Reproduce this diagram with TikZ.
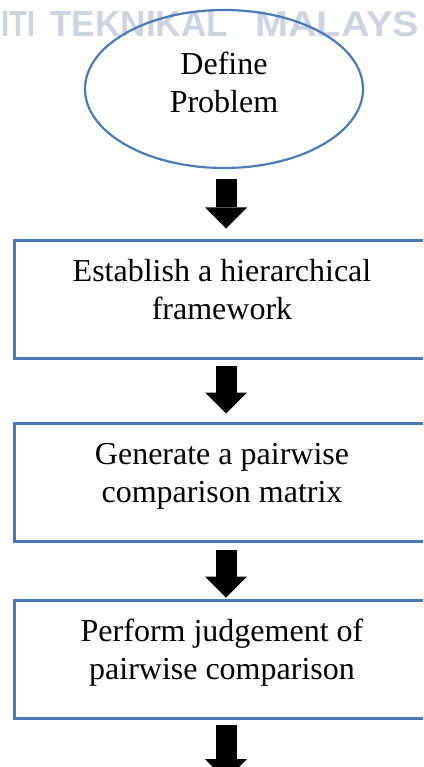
\documentclass[tikz,border=0pt]{standalone}
\usepackage{fontspec}
\setmainfont{Liberation Serif}
\newfontfamily\marksans{Liberation Sans}
\usetikzlibrary{shapes.geometric,arrows.meta,calc}

\definecolor{edgeblue}{RGB}{74,123,183}
\definecolor{markgray}{RGB}{206,211,224}

\tikzset{
  flowtext/.style={font=\fontsize{32}{38}\selectfont, align=center, inner sep=0pt},
  stepbox/.style={draw=edgeblue, line width=3pt, minimum width=416pt,
                  minimum height=118pt, inner sep=0pt},
  startshape/.style={draw=edgeblue, line width=2.2pt, ellipse, minimum width=278pt,
                     minimum height=158pt, inner sep=0pt},
  blockarrow/.style={draw=black, line width=21pt,
                     -{Triangle[width=42pt,length=21pt,line width=0pt]}},
  markword/.style={anchor=base west, inner sep=0pt, text=markgray,
                   font=\marksans\bfseries\fontsize{34}{34}\selectfont},
}

\begin{document}
\begin{tikzpicture}[x=1pt,y=-1pt]
\useasboundingbox (0,0) rectangle (423,767);
\clip (0,0) rectangle (423,767);

% faint header lettering behind the chart
\node[markword] (mark1) at (1,37) {\resizebox{34pt}{25pt}{ITI}};
\node[markword] (mark2) at (50,37) {\resizebox{178pt}{25pt}{TEKNIKAL}};
\node[markword] (mark3) at (255,37) {\resizebox{164pt}{25pt}{MALAYS}};

% start ellipse
\node[startshape] (define) at (224,89) {};
\node[flowtext] (definetext) at (224,82.75) {Define\\Problem};

% process steps
\node[stepbox] (frame) at (222,299) {};
\node[flowtext] (frametext) at (222,290) {Establish a hierarchical\\framework};

\node[stepbox] (matrix) at (222,482) {};
\node[flowtext] (matrixtext) at (222,476.7) {Generate a pairwise\\comparison matrix};

\node[stepbox] (judge) at (222,659) {};
\node[flowtext] (judgetext) at (222,653) {Perform judgement of\\pairwise comparison};

\coordinate (next) at (226,780);

% block arrows between the steps
\draw[blockarrow] ($(define.south)+(2,10)$) -- ($(frame.north)+(4,-10)$);
\draw[blockarrow] ($(frame.south)+(4,6)$) -- ($(matrix.north)+(4,-8)$);
\draw[blockarrow] ($(matrix.south)+(4,7)$) -- ($(judge.north)+(4,-1)$);
\draw[blockarrow] ($(judge.south)+(4,5)$) -- (next);
\end{tikzpicture}
\end{document}
